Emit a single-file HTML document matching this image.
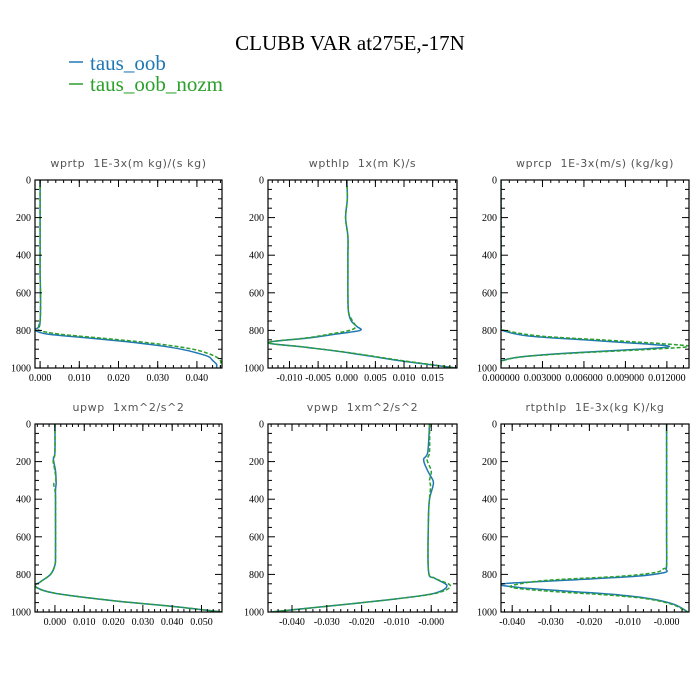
<!DOCTYPE html>
<html><head><meta charset="utf-8"><style>
body{margin:0;background:#fff;width:700px;height:700px;overflow:hidden}
svg{display:block}
.tk{font-family:"Liberation Serif",serif;font-size:10px;fill:#000}
.pt{font-family:"DejaVu Sans",sans-serif;font-size:11px;fill:#555;letter-spacing:0.6px;white-space:pre}
</style></head><body>
<svg id="fig" width="700" height="700" xmlns="http://www.w3.org/2000/svg">
<text x="350" y="50" text-anchor="middle" style="font-family:'Liberation Serif',serif;font-size:21px">CLUBB VAR at275E,-17N</text>
<g>
<line x1="69" y1="62" x2="83" y2="62" stroke="#1f77b4" stroke-width="1.5"/>
<text x="90" y="70" style="font-family:'Liberation Serif',serif;font-size:21px;fill:#1f77b4">taus_oob</text>
<line x1="69" y1="84" x2="83" y2="84" stroke="#2ca02c" stroke-width="1.5"/>
<text x="90" y="91" style="font-family:'Liberation Serif',serif;font-size:21px;fill:#2ca02c">taus_oob_nozm</text>
</g>
</svg>
<script>
// ---- data ----
const titles = ["wprtp  1E-3x(m kg)/(s kg)","wpthlp  1x(m K)/s","wprcp  1E-3x(m/s) (kg/kg)","upwp  1xm^2/s^2","vpwp  1xm^2/s^2","rtpthlp  1E-3x(kg K)/kg"];
const names = ["wprtp","wpthlp","wprcp","upwp","vpwp","rtpthlp"];
const xMin = [-0.0013,-0.01375,0,-0.0068,-0.0469,-0.0429];
const xMax = [0.0464,0.01925,0.0136,0.0570,0.0074,0.0058];
const xTicks = [[0,0.01,0.02,0.03,0.04],[-0.01,-0.005,0,0.005,0.01,0.015],[0,0.003,0.006,0.009,0.012],[0,0.01,0.02,0.03,0.04,0.05],[-0.04,-0.03,-0.02,-0.01,0],[-0.04,-0.03,-0.02,-0.01,0]];
const xTickLabels = [["0.000","0.010","0.020","0.030","0.040"],["-0.010","-0.005","0.000","0.005","0.010","0.015"],["0.000000","0.003000","0.006000","0.009000","0.012000"],["0.000","0.010","0.020","0.030","0.040","0.050"],["-0.040","-0.030","-0.020","-0.010","-0.000"],["-0.040","-0.030","-0.020","-0.010","-0.000"]];
const xMinorStep = [0.002,0.001,0.0006,0.002,0.002,0.002];
const yTicks = [0,200,400,600,800,1000];
const yTickLabels = ["0","200","400","600","800","1000"];

const lev1 = [0,100,200,300,400,500,600,700,750,780,800,820,840,860,880,900,920,940,960,980,1000];
const p1Blue = [0.0000,0.0000,0.0000,0.0000,0.0000,0.0000,0.0001,0.0001,0.0000,-0.0002,-0.0012,0.002,0.012,0.022,0.030,0.036,0.040,0.043,0.044,0.045,0.045];
const p1Green= [0.0000,0.0000,0.0000,0.0000,0.0000,0.0000,0.0001,0.0001,0.0000,-0.0004,-0.0002,0.005,0.015,0.025,0.033,0.039,0.0425,0.0448,0.046,0.046,0.046];

const lev2 = [0,100,200,300,400,500,600,700,750,780,800,820,840,865,890,920,960,1000];
const p2Blue = [0.0000,0.0001,-0.0002,0.0002,0.0002,0.0002,0.0002,0.0003,0.0008,0.0018,0.0023,-0.002,-0.0065,-0.0137,-0.007,0.0005,0.009,0.0192];
const p2Green= [0.0000,0.0001,-0.0002,0.0002,0.0002,0.0002,0.0002,0.0003,0.0010,0.0016,0.0005,-0.003,-0.007,-0.0137,-0.007,0.0008,0.0095,0.0192];

const lev3 = [0,200,400,600,780,800,830,850,870,885,900,920,940,960,980,1000];
const p3Blue = [0,0,0,0,0,0.0001,0.002,0.006,0.010,0.0122,0.010,0.005,0.0015,0.0001,-0.0003,-0.0003];
const p3Green= [0,0,0,0,0,0.0003,0.0028,0.0072,0.0115,0.0136,0.011,0.0055,0.0016,0.0002,0,0];

const lev4 = [0,150,180,200,250,300,320,350,400,500,700,750,800,840,865,900,940,970,1000];
const p4Blue = [0,0,-0.0005,-0.0004,0.0002,0.0004,0.0004,0.0002,0.0002,0.0002,0.0002,0.0000,-0.0015,-0.005,-0.0066,0.0000,0.020,0.040,0.057];
const p4Green= [0,0,-0.0003,-0.0006,0.0000,0.0003,-0.0004,0.0000,0.0002,0.0002,0.0002,0.0000,-0.0015,-0.005,-0.0068,0.0000,0.020,0.040,0.057];

const lev5 = [0,150,190,250,300,330,400,500,780,820,860,900,930,960,1000];
const p5Blue = [-0.0005,-0.001,-0.0022,-0.001,0.0005,0.0005,-0.0005,-0.0008,-0.0008,0.001,0.0045,0.001,-0.010,-0.025,-0.046];
const p5Green= [-0.0005,-0.0005,-0.0012,0.0000,-0.0005,-0.0002,-0.0005,-0.0008,-0.0008,0.001,0.0055,0.0015,-0.010,-0.025,-0.046];

const lev6 = [0,200,400,600,750,770,790,810,830,850,870,890,910,930,960,1000];
const p6Blue = [0,0,0,0,0,-0.0002,-0.0005,-0.008,-0.025,-0.0425,-0.038,-0.025,-0.012,-0.004,0.002,0.0055];
const p6Green= [0,0,0,0,0,-0.0008,-0.003,-0.012,-0.030,-0.038,-0.040,-0.030,-0.015,-0.005,0.0015,0.0055];

const levels = [lev1,lev2,lev3,lev4,lev5,lev6];
const blueSeries = [p1Blue,p2Blue,p3Blue,p4Blue,p5Blue,p6Blue];
const greenSeries = [p1Green,p2Green,p3Green,p4Green,p5Green,p6Green];

// ---- layout ----
const NS="http://www.w3.org/2000/svg";
const svg=document.getElementById('fig');
const colL=[35,268,501], colR=[222,457,689], rowT=[180,424], rowB=[368,612];
function mk(tag,attrs,parent){const e=document.createElementNS(NS,tag);for(const k in attrs)e.setAttribute(k,attrs[k]);parent.appendChild(e);return e;}
function smooth(pts){
  let d='M'+pts[0][0].toFixed(2)+' '+pts[0][1].toFixed(2);
  for(let j=0;j<pts.length-1;j++){
    const p0=pts[Math.max(0,j-1)],p1=pts[j],p2=pts[j+1],p3=pts[Math.min(pts.length-1,j+2)];
    const c1=[p1[0]+(p2[0]-p0[0])/6,p1[1]+(p2[1]-p0[1])/6];
    const c2=[p2[0]-(p3[0]-p1[0])/6,p2[1]-(p3[1]-p1[1])/6];
    d+='C'+c1[0].toFixed(2)+' '+c1[1].toFixed(2)+' '+c2[0].toFixed(2)+' '+c2[1].toFixed(2)+' '+p2[0].toFixed(2)+' '+p2[1].toFixed(2);
  }
  return d;
}

for(let i=0;i<6;i++){
  const c=i%3,r=Math.floor(i/3);
  const L=colL[c],R=colR[c],T=rowT[r],B=rowB[r];
  const xs=v=>L+(v-xMin[i])/(xMax[i]-xMin[i])*(R-L);
  const ys=p=>T+p/1000*(B-T);
  const g=mk('g',{},svg);
  
  
  const t=mk('text',{x:(L+R)/2,y:T-13,'text-anchor':'middle','class':'pt','xml:space':'preserve'},g);
  t.textContent=titles[i];
  
  
  const cp=mk('clipPath',{id:'cp'+i},g);
  mk('rect',{x:L,y:T,width:R-L,height:B-T},cp);
  [[blueSeries,'#1f77b4',null,'line-taus-oob-'],[greenSeries,'#2ca02c','4 2','line-taus-oob-nozm-']].forEach(([ser,col,dash,nm])=>{
    const lv=levels[i],vals=ser[i];
    const pts=lv.map((p,j)=>[xs(vals[j]),ys(p)]);
    const a={d:smooth(pts),fill:'none',stroke:col,'stroke-width':1.5,'clip-path':'url(#cp'+i+')'};
    if(dash)a['stroke-dasharray']=dash;
    const pth=mk('path',a,g);
    
    
  });
  for(let p=0;p<=1000;p+=50){
    const y=ys(p),maj=p%200===0,len=maj?7:4;
    mk('line',{x1:L,y1:y,x2:L+len,y2:y,stroke:'#000','stroke-width':1},g);
    mk('line',{x1:R,y1:y,x2:R-len,y2:y,stroke:'#000','stroke-width':1},g);
  }
  yTicks.forEach((p,j)=>{
    const tt=mk('text',{x:L-4,y:ys(p)+3.5,'text-anchor':'end','class':'tk'},g);
    tt.textContent=yTickLabels[j];
    
    
  });
  const st=xMinorStep[i];
  for(let v=Math.ceil(xMin[i]/st)*st;v<=xMax[i]+1e-12;v+=st){
    const x=xs(v);
    mk('line',{x1:x,y1:B,x2:x,y2:B-3,stroke:'#000','stroke-width':1},g);
    mk('line',{x1:x,y1:T,x2:x,y2:T+3,stroke:'#000','stroke-width':1},g);
  }
  xTicks[i].forEach((v,j)=>{
    const x=xs(v);
    mk('line',{x1:x,y1:B,x2:x,y2:B-7,stroke:'#000','stroke-width':1},g);
    mk('line',{x1:x,y1:T,x2:x,y2:T+7,stroke:'#000','stroke-width':1},g);
    const tt=mk('text',{x:x,y:B+13,'text-anchor':'middle','class':'tk'},g);
    tt.textContent=xTickLabels[i][j];
    
    
  });
  const fr=mk('rect',{x:L,y:T,width:R-L,height:B-T,fill:'none',stroke:'#000','stroke-width':1.2},g);
  
  
}
</script>
</body></html>
